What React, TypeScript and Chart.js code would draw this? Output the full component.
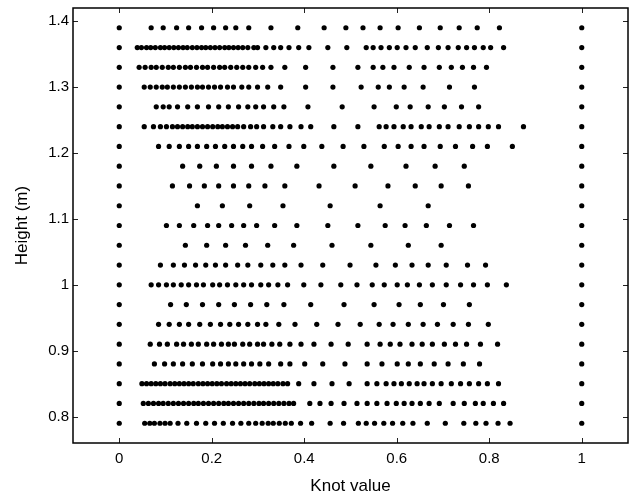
import React, { useEffect, useRef } from "react";
import { Chart, registerables } from "chart.js";

Chart.register(...registerables);

const heights = [1.39, 1.36, 1.33, 1.3, 1.27, 1.24, 1.21, 1.18, 1.15, 1.12, 1.09, 1.06, 1.03, 1.0, 0.97, 0.94, 0.91, 0.88, 0.85, 0.82, 0.79];
const boundaryKnots = [0, 1];

const knots139 = [0.069, 0.095, 0.124, 0.15, 0.178, 0.204, 0.23, 0.252, 0.28, 0.328, 0.386, 0.443, 0.49, 0.527, 0.564, 0.603, 0.649, 0.694, 0.735, 0.774, 0.822];
const knots136 = [0.039, 0.048, 0.059, 0.068, 0.078, 0.089, 0.098, 0.108, 0.118, 0.128, 0.138, 0.147, 0.158, 0.168, 0.178, 0.187, 0.197, 0.207, 0.217, 0.228, 0.237, 0.247, 0.257, 0.267, 0.278, 0.291, 0.299, 0.317, 0.334, 0.349, 0.367, 0.388, 0.41, 0.451, 0.492, 0.534, 0.549, 0.566, 0.584, 0.601, 0.62, 0.64, 0.666, 0.69, 0.711, 0.733, 0.751, 0.768, 0.787, 0.803, 0.831];
const knots133 = [0.043, 0.056, 0.069, 0.08, 0.093, 0.106, 0.117, 0.13, 0.143, 0.154, 0.167, 0.18, 0.191, 0.204, 0.217, 0.228, 0.241, 0.254, 0.267, 0.28, 0.295, 0.31, 0.328, 0.358, 0.403, 0.462, 0.516, 0.549, 0.57, 0.594, 0.627, 0.659, 0.692, 0.718, 0.742, 0.766, 0.794];
const knots130 = [0.054, 0.067, 0.08, 0.093, 0.104, 0.117, 0.13, 0.143, 0.156, 0.169, 0.18, 0.193, 0.206, 0.219, 0.234, 0.247, 0.265, 0.28, 0.299, 0.321, 0.349, 0.403, 0.462, 0.523, 0.56, 0.584, 0.616, 0.657, 0.714, 0.768];
const knots127 = [0.08, 0.095, 0.108, 0.126, 0.148, 0.169, 0.193, 0.215, 0.236, 0.258, 0.278, 0.295, 0.312, 0.334, 0.356, 0.408, 0.482, 0.551, 0.599, 0.629, 0.668, 0.703, 0.74, 0.777];
const knots124 = [0.054, 0.074, 0.089, 0.102, 0.115, 0.126, 0.137, 0.148, 0.158, 0.169, 0.18, 0.191, 0.202, 0.213, 0.223, 0.234, 0.245, 0.256, 0.269, 0.284, 0.297, 0.312, 0.332, 0.349, 0.369, 0.393, 0.414, 0.464, 0.516, 0.562, 0.577, 0.594, 0.614, 0.631, 0.653, 0.67, 0.692, 0.711, 0.735, 0.757, 0.777, 0.798, 0.82, 0.874];
const knots121 = [0.085, 0.108, 0.13, 0.15, 0.169, 0.189, 0.208, 0.228, 0.247, 0.267, 0.286, 0.31, 0.336, 0.367, 0.399, 0.438, 0.484, 0.529, 0.573, 0.603, 0.631, 0.659, 0.694, 0.727, 0.764, 0.796, 0.85];
const knots118 = [0.137, 0.174, 0.21, 0.247, 0.286, 0.328, 0.384, 0.464, 0.544, 0.62, 0.683, 0.746];
const knots115 = [0.115, 0.152, 0.184, 0.215, 0.247, 0.28, 0.315, 0.358, 0.432, 0.51, 0.581, 0.64, 0.696, 0.755];
const knots112 = [0.169, 0.223, 0.282, 0.354, 0.456, 0.564, 0.668];
const knots109 = [0.102, 0.13, 0.161, 0.191, 0.215, 0.243, 0.269, 0.297, 0.336, 0.384, 0.451, 0.516, 0.575, 0.618, 0.664, 0.714, 0.766];
const knots106 = [0.143, 0.189, 0.23, 0.273, 0.321, 0.377, 0.46, 0.544, 0.625, 0.696];
const knots103 = [0.089, 0.117, 0.141, 0.165, 0.187, 0.208, 0.23, 0.256, 0.278, 0.306, 0.332, 0.358, 0.393, 0.44, 0.499, 0.555, 0.597, 0.633, 0.668, 0.707, 0.753, 0.792];
const knots100 = [0.069, 0.085, 0.102, 0.117, 0.134, 0.15, 0.167, 0.182, 0.202, 0.217, 0.234, 0.252, 0.269, 0.286, 0.306, 0.323, 0.343, 0.364, 0.399, 0.436, 0.479, 0.514, 0.547, 0.573, 0.601, 0.623, 0.649, 0.677, 0.707, 0.738, 0.766, 0.796, 0.837];
const knots097 = [0.111, 0.145, 0.18, 0.215, 0.249, 0.284, 0.319, 0.356, 0.414, 0.486, 0.551, 0.605, 0.651, 0.701, 0.757];
const knots094 = [0.085, 0.108, 0.13, 0.15, 0.174, 0.197, 0.219, 0.239, 0.258, 0.278, 0.299, 0.317, 0.345, 0.38, 0.427, 0.473, 0.521, 0.562, 0.592, 0.625, 0.657, 0.688, 0.722, 0.755, 0.798];
const knots091 = [0.067, 0.087, 0.104, 0.124, 0.139, 0.156, 0.171, 0.189, 0.204, 0.221, 0.236, 0.249, 0.267, 0.282, 0.299, 0.312, 0.33, 0.347, 0.369, 0.393, 0.421, 0.458, 0.495, 0.536, 0.564, 0.586, 0.607, 0.633, 0.655, 0.677, 0.703, 0.727, 0.751, 0.781, 0.818];
const knots088 = [0.076, 0.098, 0.117, 0.137, 0.158, 0.18, 0.202, 0.219, 0.236, 0.252, 0.269, 0.286, 0.304, 0.323, 0.349, 0.369, 0.401, 0.44, 0.488, 0.536, 0.568, 0.601, 0.625, 0.651, 0.681, 0.711, 0.744, 0.779];
const knots085 = [0.049, 0.059, 0.069, 0.079, 0.089, 0.099, 0.11, 0.12, 0.13, 0.14, 0.15, 0.16, 0.171, 0.181, 0.191, 0.201, 0.211, 0.221, 0.232, 0.242, 0.252, 0.262, 0.272, 0.282, 0.293, 0.303, 0.313, 0.323, 0.333, 0.343, 0.354, 0.364, 0.388, 0.421, 0.46, 0.497, 0.536, 0.557, 0.577, 0.594, 0.61, 0.627, 0.644, 0.659, 0.677, 0.696, 0.718, 0.738, 0.757, 0.777, 0.796, 0.82];
const knots082 = [0.052, 0.063, 0.074, 0.085, 0.095, 0.106, 0.117, 0.128, 0.139, 0.15, 0.161, 0.171, 0.182, 0.193, 0.204, 0.215, 0.226, 0.236, 0.247, 0.258, 0.269, 0.28, 0.291, 0.302, 0.312, 0.323, 0.334, 0.345, 0.356, 0.367, 0.377, 0.412, 0.434, 0.458, 0.486, 0.514, 0.536, 0.557, 0.579, 0.599, 0.616, 0.633, 0.651, 0.67, 0.692, 0.722, 0.746, 0.77, 0.787, 0.809, 0.831];
const knots079 = [0.055, 0.066, 0.076, 0.088, 0.099, 0.11, 0.127, 0.146, 0.167, 0.187, 0.206, 0.225, 0.245, 0.263, 0.28, 0.295, 0.309, 0.322, 0.333, 0.346, 0.359, 0.372, 0.392, 0.416, 0.456, 0.485, 0.517, 0.534, 0.552, 0.572, 0.591, 0.613, 0.635, 0.666, 0.705, 0.745, 0.771, 0.793, 0.819, 0.845];

const knotRows = [knots139, knots136, knots133, knots130, knots127, knots124, knots121, knots118, knots115, knots112, knots109, knots106, knots103, knots100, knots097, knots094, knots091, knots088, knots085, knots082, knots079];

const xTicks = [0, 0.2, 0.4, 0.6, 0.8, 1];
const yTicks = [0.8, 0.9, 1.0, 1.1, 1.2, 1.3, 1.4];

const FONT = "'Liberation Sans', Arial, Helvetica, sans-serif";

const framePlugin = {
  id: "frameTicks",
  afterDraw(chart: any) {
    const { ctx, chartArea } = chart;
    const { left, right, top, bottom } = chartArea;
    const xs = chart.scales.x;
    const ys = chart.scales.y;
    ctx.save();
    ctx.strokeStyle = "#222";
    ctx.lineWidth = 1;
    const len = 5;
    ctx.beginPath();
    xTicks.forEach((v) => {
      const px = Math.round(xs.getPixelForValue(v)) + 0.5;
      ctx.moveTo(px, bottom);
      ctx.lineTo(px, bottom - len);
      ctx.moveTo(px, top);
      ctx.lineTo(px, top + len);
    });
    yTicks.forEach((v) => {
      const py = Math.round(ys.getPixelForValue(v)) + 0.5;
      ctx.moveTo(left, py);
      ctx.lineTo(left + len, py);
      ctx.moveTo(right, py);
      ctx.lineTo(right - len, py);
    });
    ctx.stroke();
    ctx.strokeStyle = "#000";
    ctx.lineWidth = 1.5;
    ctx.strokeRect(left, top, right - left, bottom - top);
    ctx.restore();
  },
};

const zeroPad = (s: any) => {
  s.paddingTop = 0;
  s.paddingBottom = 0;
  s.paddingLeft = 0;
  s.paddingRight = 0;
};

export default function App() {
  const ref = useRef<HTMLCanvasElement | null>(null);
  useEffect(() => {
    if (!ref.current) return;
    const datasets = knotRows.map((row, i) => ({
      label: "h" + heights[i],
      data: [...boundaryKnots, ...row].map((k) => ({ x: k, y: heights[i] })),
      backgroundColor: "#000",
      borderColor: "#000",
      borderWidth: 0,
      pointRadius: 2.6,
      pointHoverRadius: 2.6,
      showLine: false,
    }));
    const chart = new Chart(ref.current, {
      type: "scatter",
      data: { datasets },
      options: {
        animation: false,
        responsive: false,
        events: [],
        layout: { padding: { top: 8, right: 5, left: 0, bottom: 0 } },
        plugins: { legend: { display: false }, tooltip: { enabled: false } },
        scales: {
          x: {
            type: "linear",
            min: -0.1,
            max: 1.1,
            grid: { display: false, drawTicks: false },
            border: { display: false },
            afterBuildTicks: (s: any) => {
              s.ticks = xTicks.map((v) => ({ value: v }));
            },
            afterFit: (s: any) => {
              s.height = 59;
              zeroPad(s);
            },
            ticks: {
              padding: 7,
              color: "#000",
              font: { family: FONT, size: 15 },
              maxRotation: 0,
              callback: (v: any) => String(Number(Number(v).toFixed(2))),
            },
            title: {
              display: true,
              text: "Knot value",
              color: "#000",
              font: { family: FONT, size: 17 },
              padding: { top: 0, bottom: 5 },
            },
          },
          y: {
            type: "linear",
            min: 0.76,
            max: 1.42,
            grid: { display: false, drawTicks: false },
            border: { display: false },
            afterBuildTicks: (s: any) => {
              s.ticks = yTicks.map((v) => ({ value: v }));
            },
            afterFit: (s: any) => {
              s.width = 73;
              zeroPad(s);
            },
            ticks: {
              padding: 4,
              color: "#000",
              font: { family: FONT, size: 15 },
              callback: (v: any) => String(Number(Number(v).toFixed(2))),
            },
            title: {
              display: true,
              text: "Height (m)",
              color: "#000",
              font: { family: FONT, size: 17 },
              padding: { top: 12, bottom: 0 },
            },
          },
        },
      },
      plugins: [framePlugin],
    });
    return () => chart.destroy();
  }, []);
  return (
    <div style={{ position: "absolute", left: 0, top: 0, width: 633, height: 502, background: "#fff" }}>
      <canvas ref={ref} width={633} height={502} />
    </div>
  );
}
